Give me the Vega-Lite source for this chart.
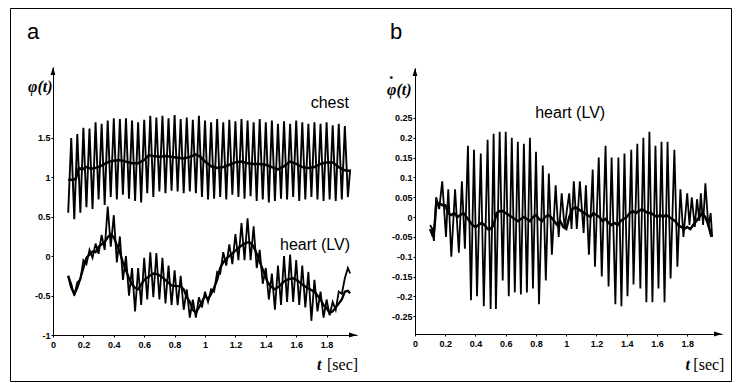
{
"$schema": "https://vega.github.io/schema/vega-lite/v6.json",
"width": 721, "height": 373,
"padding": {"left": 10, "top": 8, "right": 5, "bottom": 2},
"autosize": {"type": "none"},
"background": "white",
"config": {
  "view": {"stroke": "black", "strokeWidth": 1},
  "axis": {"grid": false, "domainColor": "black", "domainWidth": 1, "tickColor": "black", "tickSize": 2, "labelFont": "Liberation Sans", "labelFontSize": 9, "labelFontWeight": "bold", "labelColor": "black", "labelFlush": false, "labelOverlap": false, "labelBound": false},
  "axisX": {"labelPadding": 3},
  "axisY": {"labelPadding": 1},
  "text": {"color": "black"}
},
"datasets": {
 "chest": [{"t":0.10,"v":0.55},{"t":0.12,"v":1.50},{"t":0.14,"v":0.47},{"t":0.16,"v":1.55},{"t":0.18,"v":0.55},{"t":0.20,"v":1.63},{"t":0.22,"v":0.62},{"t":0.24,"v":1.62},{"t":0.26,"v":0.60},{"t":0.28,"v":1.70},{"t":0.30,"v":0.72},{"t":0.32,"v":1.68},{"t":0.34,"v":0.65},{"t":0.36,"v":1.72},{"t":0.38,"v":0.75},{"t":0.40,"v":1.75},{"t":0.42,"v":0.72},{"t":0.44,"v":1.74},{"t":0.46,"v":0.78},{"t":0.48,"v":1.75},{"t":0.50,"v":0.73},{"t":0.52,"v":1.72},{"t":0.54,"v":0.70},{"t":0.56,"v":1.70},{"t":0.58,"v":0.68},{"t":0.60,"v":1.73},{"t":0.62,"v":0.80},{"t":0.64,"v":1.78},{"t":0.66,"v":0.75},{"t":0.68,"v":1.76},{"t":0.70,"v":0.82},{"t":0.72,"v":1.78},{"t":0.74,"v":0.80},{"t":0.76,"v":1.75},{"t":0.78,"v":0.83},{"t":0.80,"v":1.79},{"t":0.82,"v":0.82},{"t":0.84,"v":1.74},{"t":0.86,"v":0.80},{"t":0.88,"v":1.76},{"t":0.90,"v":0.82},{"t":0.92,"v":1.73},{"t":0.94,"v":0.80},{"t":0.96,"v":1.78},{"t":0.98,"v":0.75},{"t":1.00,"v":1.72},{"t":1.02,"v":0.72},{"t":1.04,"v":1.70},{"t":1.06,"v":0.73},{"t":1.08,"v":1.74},{"t":1.10,"v":0.75},{"t":1.12,"v":1.70},{"t":1.14,"v":0.72},{"t":1.16,"v":1.73},{"t":1.18,"v":0.78},{"t":1.20,"v":1.71},{"t":1.22,"v":0.75},{"t":1.24,"v":1.74},{"t":1.26,"v":0.73},{"t":1.28,"v":1.72},{"t":1.30,"v":0.76},{"t":1.32,"v":1.70},{"t":1.34,"v":0.70},{"t":1.36,"v":1.74},{"t":1.38,"v":0.72},{"t":1.40,"v":1.70},{"t":1.42,"v":0.68},{"t":1.44,"v":1.72},{"t":1.46,"v":0.70},{"t":1.48,"v":1.68},{"t":1.50,"v":0.73},{"t":1.52,"v":1.71},{"t":1.54,"v":0.72},{"t":1.56,"v":1.68},{"t":1.58,"v":0.75},{"t":1.60,"v":1.72},{"t":1.62,"v":0.70},{"t":1.64,"v":1.70},{"t":1.66,"v":0.72},{"t":1.68,"v":1.68},{"t":1.70,"v":0.75},{"t":1.72,"v":1.70},{"t":1.74,"v":0.72},{"t":1.76,"v":1.68},{"t":1.78,"v":0.70},{"t":1.80,"v":1.70},{"t":1.82,"v":0.72},{"t":1.84,"v":1.66},{"t":1.86,"v":0.70},{"t":1.88,"v":1.68},{"t":1.90,"v":0.72},{"t":1.92,"v":1.65},{"t":1.94,"v":0.75},{"t":1.955,"v":1.10}],
 "chestS": [{"t":0.10,"v":0.97},{"t":0.13,"v":0.97},{"t":0.15,"v":0.98},{"t":0.16,"v":1.05},{"t":0.17,"v":1.12},{"t":0.19,"v":1.10},{"t":0.22,"v":1.13},{"t":0.25,"v":1.11},{"t":0.28,"v":1.12},{"t":0.31,"v":1.14},{"t":0.34,"v":1.17},{"t":0.37,"v":1.20},{"t":0.40,"v":1.21},{"t":0.44,"v":1.22},{"t":0.48,"v":1.20},{"t":0.52,"v":1.18},{"t":0.56,"v":1.18},{"t":0.60,"v":1.22},{"t":0.63,"v":1.28},{"t":0.66,"v":1.27},{"t":0.70,"v":1.26},{"t":0.74,"v":1.27},{"t":0.78,"v":1.26},{"t":0.82,"v":1.25},{"t":0.86,"v":1.24},{"t":0.90,"v":1.26},{"t":0.94,"v":1.29},{"t":0.97,"v":1.26},{"t":1.00,"v":1.20},{"t":1.04,"v":1.14},{"t":1.08,"v":1.12},{"t":1.12,"v":1.13},{"t":1.16,"v":1.16},{"t":1.20,"v":1.19},{"t":1.24,"v":1.20},{"t":1.28,"v":1.18},{"t":1.32,"v":1.17},{"t":1.36,"v":1.17},{"t":1.40,"v":1.16},{"t":1.44,"v":1.13},{"t":1.48,"v":1.10},{"t":1.52,"v":1.14},{"t":1.56,"v":1.20},{"t":1.60,"v":1.17},{"t":1.64,"v":1.13},{"t":1.68,"v":1.12},{"t":1.72,"v":1.13},{"t":1.76,"v":1.17},{"t":1.80,"v":1.19},{"t":1.84,"v":1.19},{"t":1.88,"v":1.13},{"t":1.92,"v":1.09},{"t":1.955,"v":1.08}],
 "heart": [{"t":0.10,"v":-0.25},{"t":0.12,"v":-0.35},{"t":0.14,"v":-0.50},{"t":0.16,"v":-0.33},{"t":0.18,"v":-0.30},{"t":0.20,"v":-0.05},{"t":0.22,"v":-0.10},{"t":0.24,"v":0.08},{"t":0.26,"v":-0.02},{"t":0.28,"v":0.16},{"t":0.30,"v":0.03},{"t":0.32,"v":0.27},{"t":0.34,"v":0.08},{"t":0.36,"v":0.63},{"t":0.38,"v":0.12},{"t":0.40,"v":0.52},{"t":0.42,"v":-0.08},{"t":0.44,"v":0.25},{"t":0.46,"v":-0.30},{"t":0.48,"v":0.00},{"t":0.50,"v":-0.50},{"t":0.52,"v":-0.15},{"t":0.54,"v":-0.70},{"t":0.56,"v":-0.15},{"t":0.58,"v":-0.62},{"t":0.60,"v":-0.02},{"t":0.62,"v":-0.55},{"t":0.64,"v":0.05},{"t":0.66,"v":-0.52},{"t":0.68,"v":0.04},{"t":0.70,"v":-0.55},{"t":0.72,"v":-0.02},{"t":0.74,"v":-0.60},{"t":0.76,"v":-0.12},{"t":0.78,"v":-0.62},{"t":0.80,"v":-0.18},{"t":0.82,"v":-0.62},{"t":0.84,"v":-0.25},{"t":0.86,"v":-0.68},{"t":0.88,"v":-0.42},{"t":0.90,"v":-0.78},{"t":0.92,"v":-0.55},{"t":0.94,"v":-0.78},{"t":0.96,"v":-0.52},{"t":0.98,"v":-0.65},{"t":1.00,"v":-0.45},{"t":1.02,"v":-0.58},{"t":1.04,"v":-0.42},{"t":1.06,"v":-0.45},{"t":1.08,"v":-0.20},{"t":1.10,"v":-0.22},{"t":1.12,"v":0.05},{"t":1.14,"v":-0.12},{"t":1.16,"v":0.15},{"t":1.18,"v":-0.10},{"t":1.20,"v":0.28},{"t":1.22,"v":-0.05},{"t":1.24,"v":0.42},{"t":1.26,"v":-0.05},{"t":1.28,"v":0.48},{"t":1.30,"v":-0.05},{"t":1.32,"v":0.38},{"t":1.34,"v":-0.15},{"t":1.36,"v":0.08},{"t":1.38,"v":-0.35},{"t":1.40,"v":-0.15},{"t":1.42,"v":-0.55},{"t":1.44,"v":-0.22},{"t":1.46,"v":-0.68},{"t":1.48,"v":-0.12},{"t":1.50,"v":-0.62},{"t":1.52,"v":0.00},{"t":1.54,"v":-0.58},{"t":1.56,"v":0.02},{"t":1.58,"v":-0.58},{"t":1.60,"v":-0.05},{"t":1.62,"v":-0.62},{"t":1.64,"v":-0.12},{"t":1.66,"v":-0.65},{"t":1.68,"v":-0.20},{"t":1.70,"v":-0.82},{"t":1.72,"v":-0.30},{"t":1.74,"v":-0.70},{"t":1.76,"v":-0.45},{"t":1.78,"v":-0.78},{"t":1.80,"v":-0.55},{"t":1.82,"v":-0.75},{"t":1.84,"v":-0.58},{"t":1.86,"v":-0.68},{"t":1.88,"v":-0.45},{"t":1.90,"v":-0.48},{"t":1.92,"v":-0.28},{"t":1.94,"v":-0.15},{"t":1.955,"v":-0.22}],
 "heartS": [{"t":0.10,"v":-0.25},{"t":0.12,"v":-0.40},{"t":0.14,"v":-0.48},{"t":0.16,"v":-0.40},{"t":0.18,"v":-0.28},{"t":0.20,"v":-0.15},{"t":0.22,"v":-0.02},{"t":0.24,"v":0.02},{"t":0.26,"v":0.06},{"t":0.28,"v":0.05},{"t":0.30,"v":0.12},{"t":0.32,"v":0.15},{"t":0.34,"v":0.18},{"t":0.36,"v":0.24},{"t":0.38,"v":0.28},{"t":0.40,"v":0.24},{"t":0.42,"v":0.14},{"t":0.44,"v":0.05},{"t":0.46,"v":-0.08},{"t":0.48,"v":-0.18},{"t":0.50,"v":-0.28},{"t":0.52,"v":-0.36},{"t":0.54,"v":-0.40},{"t":0.56,"v":-0.42},{"t":0.58,"v":-0.36},{"t":0.60,"v":-0.30},{"t":0.63,"v":-0.26},{"t":0.66,"v":-0.22},{"t":0.69,"v":-0.23},{"t":0.72,"v":-0.27},{"t":0.75,"v":-0.32},{"t":0.78,"v":-0.37},{"t":0.81,"v":-0.38},{"t":0.84,"v":-0.38},{"t":0.86,"v":-0.42},{"t":0.88,"v":-0.52},{"t":0.90,"v":-0.58},{"t":0.92,"v":-0.68},{"t":0.94,"v":-0.72},{"t":0.96,"v":-0.65},{"t":0.98,"v":-0.58},{"t":1.00,"v":-0.50},{"t":1.02,"v":-0.55},{"t":1.04,"v":-0.48},{"t":1.06,"v":-0.40},{"t":1.08,"v":-0.30},{"t":1.10,"v":-0.15},{"t":1.12,"v":-0.08},{"t":1.14,"v":-0.03},{"t":1.17,"v":0.02},{"t":1.20,"v":0.07},{"t":1.23,"v":0.12},{"t":1.26,"v":0.16},{"t":1.29,"v":0.18},{"t":1.31,"v":0.15},{"t":1.33,"v":0.08},{"t":1.35,"v":-0.02},{"t":1.37,"v":-0.12},{"t":1.39,"v":-0.22},{"t":1.41,"v":-0.32},{"t":1.43,"v":-0.38},{"t":1.46,"v":-0.42},{"t":1.49,"v":-0.38},{"t":1.52,"v":-0.32},{"t":1.55,"v":-0.29},{"t":1.58,"v":-0.28},{"t":1.61,"v":-0.31},{"t":1.64,"v":-0.36},{"t":1.67,"v":-0.40},{"t":1.70,"v":-0.43},{"t":1.73,"v":-0.47},{"t":1.76,"v":-0.55},{"t":1.78,"v":-0.62},{"t":1.80,"v":-0.66},{"t":1.82,"v":-0.72},{"t":1.84,"v":-0.70},{"t":1.86,"v":-0.65},{"t":1.88,"v":-0.60},{"t":1.90,"v":-0.55},{"t":1.92,"v":-0.45},{"t":1.94,"v":-0.44},{"t":1.955,"v":-0.47}],
 "d": [{"t":0.10,"v":-0.02},{"t":0.115,"v":-0.03},{"t":0.125,"v":-0.06},{"t":0.14,"v":0.05},{"t":0.16,"v":0.02},{"t":0.18,"v":0.09},{"t":0.205,"v":-0.05},{"t":0.22,"v":0.07},{"t":0.24,"v":-0.10},{"t":0.265,"v":0.07},{"t":0.29,"v":-0.09},{"t":0.31,"v":0.09},{"t":0.33,"v":-0.08},{"t":0.35,"v":0.18},{"t":0.37,"v":-0.21},{"t":0.39,"v":0.17},{"t":0.41,"v":-0.20},{"t":0.435,"v":0.16},{"t":0.455,"v":-0.225},{"t":0.48,"v":0.195},{"t":0.50,"v":-0.232},{"t":0.52,"v":0.21},{"t":0.535,"v":-0.232},{"t":0.56,"v":0.215},{"t":0.58,"v":-0.16},{"t":0.60,"v":0.215},{"t":0.62,"v":-0.20},{"t":0.64,"v":0.20},{"t":0.66,"v":-0.19},{"t":0.68,"v":0.19},{"t":0.70,"v":-0.195},{"t":0.72,"v":0.185},{"t":0.74,"v":-0.19},{"t":0.76,"v":0.20},{"t":0.78,"v":-0.18},{"t":0.80,"v":0.165},{"t":0.82,"v":-0.22},{"t":0.845,"v":0.13},{"t":0.865,"v":-0.16},{"t":0.885,"v":0.11},{"t":0.905,"v":-0.095},{"t":0.93,"v":0.08},{"t":0.95,"v":-0.05},{"t":0.97,"v":0.06},{"t":0.99,"v":-0.03},{"t":1.005,"v":0.02},{"t":1.02,"v":0.06},{"t":1.035,"v":-0.03},{"t":1.05,"v":0.09},{"t":1.07,"v":-0.03},{"t":1.09,"v":0.09},{"t":1.115,"v":-0.04},{"t":1.13,"v":0.08},{"t":1.15,"v":-0.095},{"t":1.175,"v":0.12},{"t":1.19,"v":-0.125},{"t":1.215,"v":0.15},{"t":1.235,"v":-0.15},{"t":1.26,"v":0.18},{"t":1.28,"v":-0.175},{"t":1.30,"v":0.15},{"t":1.325,"v":-0.22},{"t":1.345,"v":0.15},{"t":1.365,"v":-0.225},{"t":1.385,"v":0.16},{"t":1.405,"v":-0.20},{"t":1.43,"v":0.17},{"t":1.445,"v":-0.17},{"t":1.47,"v":0.185},{"t":1.49,"v":-0.18},{"t":1.51,"v":0.20},{"t":1.53,"v":-0.215},{"t":1.55,"v":0.215},{"t":1.57,"v":-0.215},{"t":1.59,"v":0.18},{"t":1.61,"v":-0.18},{"t":1.63,"v":0.19},{"t":1.65,"v":-0.215},{"t":1.67,"v":0.19},{"t":1.69,"v":-0.155},{"t":1.715,"v":0.17},{"t":1.735,"v":-0.125},{"t":1.755,"v":0.07},{"t":1.775,"v":-0.05},{"t":1.80,"v":0.06},{"t":1.815,"v":-0.02},{"t":1.83,"v":0.05},{"t":1.85,"v":-0.025},{"t":1.865,"v":0.045},{"t":1.88,"v":-0.01},{"t":1.89,"v":0.06},{"t":1.905,"v":-0.02},{"t":1.92,"v":0.085},{"t":1.94,"v":-0.025},{"t":1.955,"v":0.01},{"t":1.965,"v":-0.05}],
 "dS": [{"t":0.10,"v":-0.03},{"t":0.12,"v":-0.05},{"t":0.13,"v":-0.02},{"t":0.14,"v":0.03},{"t":0.16,"v":0.035},{"t":0.18,"v":0.03},{"t":0.20,"v":0.03},{"t":0.22,"v":0.01},{"t":0.24,"v":0.005},{"t":0.26,"v":0.01},{"t":0.28,"v":0.0},{"t":0.30,"v":0.005},{"t":0.32,"v":0.01},{"t":0.34,"v":0.0},{"t":0.36,"v":-0.01},{"t":0.38,"v":-0.02},{"t":0.40,"v":-0.025},{"t":0.42,"v":-0.02},{"t":0.44,"v":-0.015},{"t":0.46,"v":-0.02},{"t":0.48,"v":-0.03},{"t":0.50,"v":-0.03},{"t":0.52,"v":-0.02},{"t":0.54,"v":0.01},{"t":0.56,"v":0.015},{"t":0.58,"v":0.015},{"t":0.60,"v":0.01},{"t":0.62,"v":0.005},{"t":0.64,"v":0.0},{"t":0.66,"v":-0.005},{"t":0.68,"v":-0.01},{"t":0.70,"v":-0.005},{"t":0.72,"v":0.0},{"t":0.74,"v":-0.005},{"t":0.76,"v":-0.01},{"t":0.78,"v":0.0},{"t":0.80,"v":0.005},{"t":0.82,"v":-0.005},{"t":0.84,"v":-0.01},{"t":0.86,"v":0.0},{"t":0.88,"v":0.005},{"t":0.90,"v":0.0},{"t":0.92,"v":-0.01},{"t":0.94,"v":-0.02},{"t":0.96,"v":-0.01},{"t":0.98,"v":-0.025},{"t":1.00,"v":-0.03},{"t":1.02,"v":0.0},{"t":1.04,"v":0.02},{"t":1.06,"v":0.025},{"t":1.08,"v":0.02},{"t":1.10,"v":0.015},{"t":1.12,"v":0.01},{"t":1.14,"v":0.005},{"t":1.16,"v":0.0},{"t":1.18,"v":0.01},{"t":1.20,"v":0.005},{"t":1.22,"v":0.0},{"t":1.24,"v":-0.01},{"t":1.26,"v":-0.005},{"t":1.28,"v":-0.015},{"t":1.30,"v":-0.02},{"t":1.32,"v":-0.015},{"t":1.34,"v":-0.02},{"t":1.36,"v":-0.01},{"t":1.38,"v":-0.005},{"t":1.40,"v":0.0},{"t":1.42,"v":0.01},{"t":1.44,"v":0.015},{"t":1.46,"v":0.01},{"t":1.48,"v":0.015},{"t":1.50,"v":0.02},{"t":1.52,"v":0.015},{"t":1.54,"v":0.01},{"t":1.56,"v":0.01},{"t":1.58,"v":0.005},{"t":1.60,"v":0.0},{"t":1.62,"v":0.005},{"t":1.64,"v":0.0},{"t":1.66,"v":0.005},{"t":1.68,"v":0.0},{"t":1.70,"v":-0.005},{"t":1.72,"v":-0.01},{"t":1.74,"v":-0.02},{"t":1.76,"v":-0.025},{"t":1.78,"v":-0.03},{"t":1.80,"v":-0.025},{"t":1.82,"v":-0.03},{"t":1.84,"v":-0.02},{"t":1.86,"v":-0.01},{"t":1.88,"v":0.0},{"t":1.90,"v":0.01},{"t":1.92,"v":0.0},{"t":1.94,"v":-0.02},{"t":1.96,"v":-0.05}]
},
"layer": [
 {
  "encoding": {
   "x": {"field": "t", "type": "quantitative", "scale": {"domain": [0, 2], "range": [43, 347], "nice": false, "zero": false}, "axis": {"orient": "bottom", "offset": -46, "values": [0,0.2,0.4,0.6,0.8,1,1.2,1.4,1.6,1.8], "labelExpr": "'' + datum.value", "title": null}},
   "y": {"field": "v", "type": "quantitative", "scale": {"domain": [-1, 2.4], "range": [327, 59], "nice": false, "zero": false}, "axis": {"orient": "left", "offset": -43, "values": [-1,-0.5,0,0.5,1,1.5], "labelExpr": "'' + datum.value", "title": null}}
  },
  "layer": [
   {"data": {"name": "chest"}, "mark": {"type": "line", "color": "black", "strokeWidth": 1.9}},
   {"data": {"name": "chestS"}, "mark": {"type": "line", "color": "black", "strokeWidth": 2.5}},
   {"data": {"name": "heart"}, "mark": {"type": "line", "color": "black", "strokeWidth": 1.8}},
   {"data": {"name": "heartS"}, "mark": {"type": "line", "color": "black", "strokeWidth": 2.3}},
   {"data": {"values": [{"t": 0, "v": 2.4}]}, "mark": {"type": "point", "shape": "M0,0L-0.6,2L0.6,2Z", "size": 64, "filled": true, "color": "black", "opacity": 1}},
   {"data": {"values": [{"t": 2.0, "v": -1}]}, "mark": {"type": "point", "shape": "M0,0L-2,-0.6L-2,0.6Z", "size": 64, "filled": true, "color": "black", "opacity": 1}},
   {"data": {"values": [{"t": -0.171, "v": 2.757}]}, "mark": {"type": "text", "text": "a", "align": "left", "baseline": "alphabetic", "font": "Liberation Sans", "fontSize": 22}},
   {"data": {"values": [{"t": -0.164, "v": 2.084}]}, "mark": {"type": "text", "text": "φ(t)", "align": "left", "baseline": "alphabetic", "font": "Liberation Serif", "fontStyle": "italic", "fontWeight": "bold", "fontSize": 16}},
   {"data": {"values": [{"t": 1.947, "v": 1.88}]}, "mark": {"type": "text", "text": "chest", "align": "right", "baseline": "alphabetic", "font": "Liberation Sans", "fontSize": 16}},
   {"data": {"values": [{"t": 1.954, "v": 0.076}]}, "mark": {"type": "text", "text": "heart (LV)", "align": "right", "baseline": "alphabetic", "font": "Liberation Sans", "fontSize": 16}},
   {"data": {"values": [{"t": 1.737, "v": -1.449}]}, "mark": {"type": "text", "text": "t", "align": "left", "baseline": "alphabetic", "font": "Liberation Serif", "fontStyle": "italic", "fontWeight": "bold", "fontSize": 16}},
   {"data": {"values": [{"t": 2.007, "v": -1.449}]}, "mark": {"type": "text", "text": "[sec]", "align": "right", "baseline": "alphabetic", "font": "Liberation Serif", "fontSize": 16}}
  ]
 },
 {
  "encoding": {
   "x": {"field": "t", "type": "quantitative", "scale": {"domain": [0, 2.03], "range": [405, 712], "nice": false, "zero": false}, "axis": {"orient": "bottom", "offset": -47, "values": [0,0.2,0.4,0.6,0.8,1,1.2,1.4,1.6,1.8], "labelExpr": "'' + datum.value", "title": null}},
   "y": {"field": "v", "type": "quantitative", "scale": {"domain": [-0.295, 0.376], "range": [326, 60], "nice": false, "zero": false}, "axis": {"orient": "left", "offset": -405, "values": [-0.25,-0.2,-0.15,-0.1,-0.05,0,0.05,0.1,0.15,0.2,0.25], "labelExpr": "'' + datum.value", "title": null}}
  },
  "layer": [
   {"data": {"name": "d"}, "mark": {"type": "line", "color": "black", "strokeWidth": 1.8}},
   {"data": {"name": "dS"}, "mark": {"type": "line", "color": "black", "strokeWidth": 2.5}},
   {"data": {"values": [{"t": 0, "v": 0.376}]}, "mark": {"type": "point", "shape": "M0,0L-0.6,2L0.6,2Z", "size": 64, "filled": true, "color": "black", "opacity": 1}},
   {"data": {"values": [{"t": 2.03, "v": -0.295}]}, "mark": {"type": "point", "shape": "M0,0L-2,-0.6L-2,0.6Z", "size": 64, "filled": true, "color": "black", "opacity": 1}},
   {"data": {"values": [{"t": -0.166, "v": 0.4495}]}, "mark": {"type": "text", "text": "b", "align": "left", "baseline": "alphabetic", "font": "Liberation Sans", "fontSize": 22}},
   {"data": {"values": [{"t": -0.185, "v": 0.308}]}, "mark": {"type": "text", "text": "φ(t)", "align": "left", "baseline": "alphabetic", "font": "Liberation Serif", "fontStyle": "italic", "fontWeight": "bold", "fontSize": 16}},
   {"data": {"values": [{"t": -0.157, "v": 0.322}]}, "mark": {"type": "text", "text": "˙", "align": "center", "baseline": "alphabetic", "font": "Liberation Serif", "fontWeight": "bold", "fontSize": 18}},
   {"data": {"values": [{"t": 1.026, "v": 0.25}]}, "mark": {"type": "text", "text": "heart (LV)", "align": "center", "baseline": "alphabetic", "font": "Liberation Sans", "fontSize": 16}},
   {"data": {"values": [{"t": 1.788, "v": -0.386}]}, "mark": {"type": "text", "text": "t", "align": "left", "baseline": "alphabetic", "font": "Liberation Serif", "fontStyle": "italic", "fontWeight": "bold", "fontSize": 16}},
   {"data": {"values": [{"t": 2.046, "v": -0.386}]}, "mark": {"type": "text", "text": "[sec]", "align": "right", "baseline": "alphabetic", "font": "Liberation Serif", "fontSize": 16}}
  ]
 }
],
"resolve": {"scale": {"x": "independent", "y": "independent"}, "axis": {"x": "independent", "y": "independent"}}
}
